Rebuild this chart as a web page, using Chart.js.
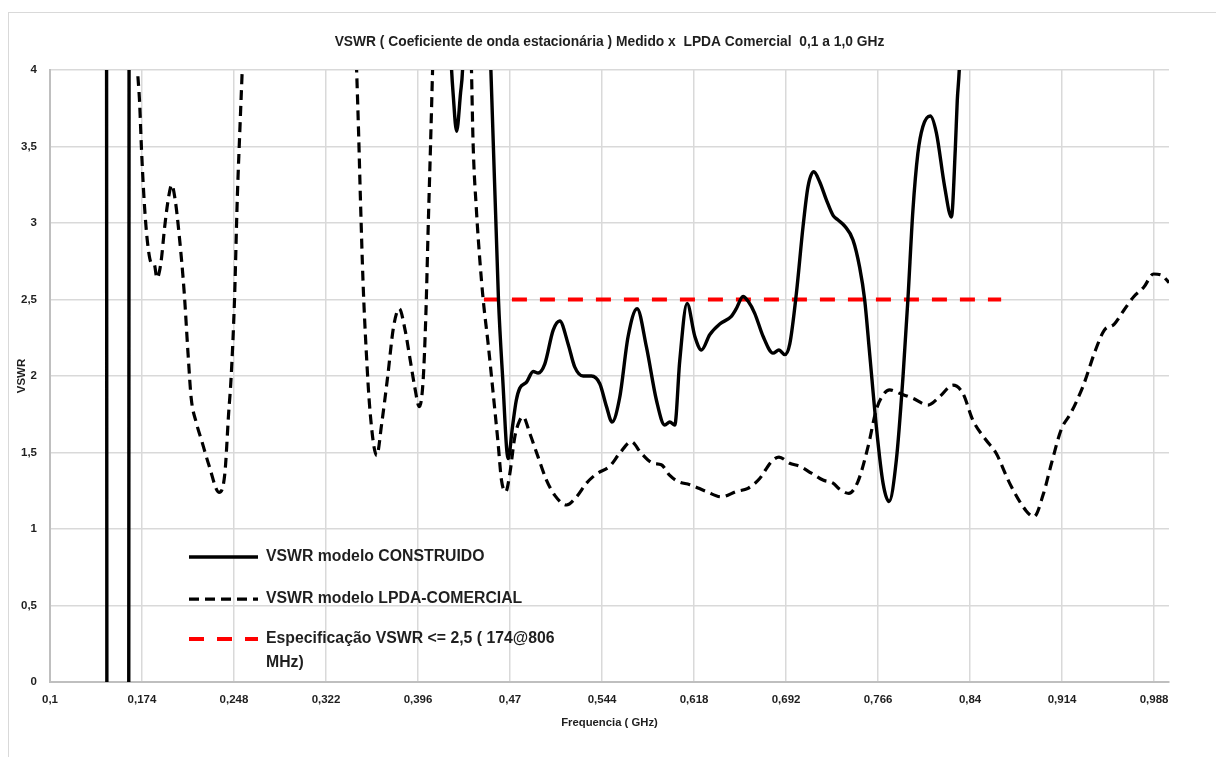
<!DOCTYPE html>
<html lang="pt">
<head>
<meta charset="utf-8">
<title>VSWR medido x LPDA comercial</title>
<script src="https://cdn.jsdelivr.net/npm/chart.js@4.4.1/dist/chart.umd.min.js"></script>
<style>
  html, body { margin: 0; padding: 0; background: #fff; overflow: hidden; }
  #frame { position: absolute; left: 8px; top: 12px; width: 1240px; height: 780px; border: 1px solid #d9d9d9; }
  #vswrChart { position: absolute; left: 0; top: 0; }
</style>
</head>
<body>
<div id="frame"></div>
<canvas id="vswrChart" width="1216" height="757"></canvas>
<script>
// Frequency axis labels (GHz)
const freqTicks = [0.1, 0.174, 0.248, 0.322, 0.396, 0.47, 0.544, 0.618, 0.692, 0.766, 0.84, 0.914, 0.988];

// Built antenna (measured) - values above 4 / below 0 fall outside the plot
const freqBuilt = [
  0.1000, 0.1454, 0.1458, 0.1633, 0.1637, 0.4200, 0.4230, 0.4242, 0.4270, 0.4302, 0.4318, 0.4350, 0.4490,
  0.4546, 0.4607, 0.4640, 0.4685, 0.4720, 0.4750, 0.4778, 0.4833, 0.4886, 0.4926, 0.4980, 0.5047, 0.5100,
  0.5167, 0.5220, 0.5288, 0.5355, 0.5422, 0.5476, 0.5520, 0.5582, 0.5650, 0.5722, 0.5797, 0.5878, 0.5944,
  0.5985, 0.6025, 0.6065, 0.6124, 0.6186, 0.6240, 0.6306, 0.6387, 0.6480, 0.6520, 0.6574, 0.6614, 0.6668,
  0.6735, 0.6815, 0.6863, 0.6910, 0.6950, 0.7003, 0.7057, 0.7097, 0.7143, 0.7190, 0.7245, 0.7298, 0.7338,
  0.7392, 0.7458, 0.7512, 0.7552, 0.7592, 0.7646, 0.7700, 0.7748, 0.7807, 0.7861, 0.7900, 0.7940, 0.7980,
  0.8020, 0.8080, 0.8129, 0.8195, 0.8250, 0.8281, 0.8297, 0.8313, 0.8340, 0.8400, 1.0000
];
const vswrBuilt = [
  6.0, 6.0, -1.0, -1.0, 6.0, 4.6, 4.0, 3.85, 3.6, 3.85, 4.0, 4.8, 5.0,
  4.0, 2.5, 2.0, 1.46, 1.67, 1.84, 1.92, 1.96, 2.03, 2.02, 2.08, 2.30, 2.36,
  2.21, 2.06, 2.00, 2.00, 1.95, 1.80, 1.70, 1.86, 2.26, 2.44, 2.19, 1.84, 1.68,
  1.70, 1.68, 2.10, 2.475, 2.26, 2.17, 2.27, 2.34, 2.39, 2.44, 2.52, 2.49, 2.41,
  2.26, 2.15, 2.17, 2.14, 2.21, 2.54, 2.98, 3.24, 3.335, 3.27, 3.15, 3.05, 3.02,
  2.98, 2.89, 2.71, 2.50, 2.15, 1.67, 1.30, 1.18, 1.45, 2.00, 2.50, 3.08, 3.455,
  3.63, 3.70, 3.59, 3.24, 3.04, 3.48, 3.80, 4.0, 4.6, 5.0, 5.0
];

// Commercial LPDA
const freqComercial = [
  0.1000, 0.1650, 0.1704, 0.1720, 0.1736, 0.1757, 0.1782, 0.1814, 0.1839, 0.1860, 0.1892, 0.1923, 0.1954,
  0.1979, 0.2007, 0.2038, 0.2079, 0.2110, 0.2135, 0.2175, 0.2219, 0.2281, 0.2359, 0.2406, 0.2437, 0.2456,
  0.2484, 0.2506, 0.2531, 0.2546, 0.2590, 0.3420, 0.3466, 0.3482, 0.3497, 0.3518, 0.3543, 0.3575, 0.3628,
  0.3668, 0.3715, 0.3763, 0.3809, 0.3856, 0.3902, 0.3933, 0.3970, 0.4001, 0.4023, 0.4042, 0.4061, 0.4077,
  0.4110, 0.4363, 0.4390, 0.4403, 0.4430, 0.4457, 0.4484, 0.4524, 0.4564, 0.4604, 0.4631, 0.4666, 0.4698,
  0.4738, 0.4778, 0.4805, 0.4859, 0.4926, 0.4993, 0.5060, 0.5154, 0.5234, 0.5315, 0.5395, 0.5502, 0.5582,
  0.5675, 0.5756, 0.5850, 0.5917, 0.5985, 0.6052, 0.6146, 0.6280, 0.6400, 0.6520, 0.6614, 0.6708, 0.6802,
  0.6863, 0.6949, 0.7030, 0.7124, 0.7217, 0.7298, 0.7352, 0.7425, 0.7498, 0.7580, 0.7646, 0.7700, 0.7753,
  0.7833, 0.7940, 0.8061, 0.8155, 0.8262, 0.8342, 0.8423, 0.8530, 0.8610, 0.8718, 0.8850, 0.8913, 0.8990,
  0.9055, 0.9133, 0.9212, 0.9307, 0.9338, 0.9400, 0.9480, 0.9560, 0.9637, 0.9718, 0.9797, 0.9876, 0.9940,
  1.0000
];
const vswrComercial = [
  5.0, 5.0, 4.0, 3.80, 3.48, 3.15, 2.89, 2.74, 2.73, 2.64, 2.74, 2.98, 3.17,
  3.25, 3.15, 2.93, 2.55, 2.15, 1.86, 1.70, 1.58, 1.41, 1.24, 1.36, 1.76, 1.98,
  2.50, 3.15, 3.69, 4.0, 5.0, 5.0, 4.0, 3.59, 3.15, 2.61, 2.17, 1.76, 1.48,
  1.69, 1.99, 2.32, 2.44, 2.30, 2.08, 1.93, 1.80, 1.97, 2.40, 2.98, 3.52, 4.0,
  5.0, 5.0, 4.0, 3.52, 3.08, 2.76, 2.50, 2.21, 1.89, 1.56, 1.32, 1.244, 1.36,
  1.60, 1.71, 1.734, 1.625, 1.47, 1.32, 1.22, 1.157, 1.21, 1.30, 1.36, 1.41, 1.495,
  1.57, 1.495, 1.43, 1.42, 1.35, 1.31, 1.29, 1.245, 1.21, 1.245, 1.266, 1.33, 1.44,
  1.47, 1.43, 1.41, 1.365, 1.32, 1.30, 1.26, 1.233, 1.31, 1.54, 1.78, 1.876, 1.91,
  1.887, 1.854, 1.81, 1.865, 1.94, 1.887, 1.71, 1.58, 1.495, 1.30, 1.12, 1.08, 1.23,
  1.43, 1.65, 1.76, 1.93, 2.0, 2.15, 2.30, 2.34, 2.43, 2.52, 2.58, 2.667, 2.66,
  2.61
];

// Specification limit
const freqSpec = [0.449, 0.865];
const vswrSpec = [2.5, 2.5];

const seriesNames = [
  'VSWR modelo CONSTRUIDO',
  'VSWR modelo LPDA-COMERCIAL',
  'Especificação VSWR <= 2,5 ( 174@806 MHz)'
];

const FONT = '"Liberation Sans", Arial, sans-serif';
const TEXT = '#1f1f1f';
const toPoints = (xs, ys) => xs.map((x, i) => ({ x, y: ys[i] }));
const comma = v => String(v).replace('.', ',');

// word-wrap a legend label to a max width
function wrap(ctx, text, maxW) {
  const words = text.split(' ');
  const lines = [];
  let line = '';
  words.forEach(w => {
    const test = line ? line + ' ' + w : w;
    if (ctx.measureText(test).width > maxW && line) {
      lines.push(line);
      line = w;
    } else {
      line = test;
    }
  });
  if (line) lines.push(line);
  return lines;
}

// Legend drawn inside the plot area, lower left
const legendBox = {
  id: 'legendBox',
  afterDatasetsDraw(chart) {
    const { ctx, chartArea } = chart;
    const x0 = chartArea.left + 139;
    const x1 = x0 + 69;
    const tx = x1 + 8;
    const rows = [487, 529, 569];
    ctx.save();
    ctx.font = 'bold 15.8px ' + FONT;
    ctx.textBaseline = 'middle';
    ctx.textAlign = 'left';
    chart.data.datasets.forEach((ds, i) => {
      const y = chartArea.top + rows[i];
      ctx.beginPath();
      ctx.setLineDash(ds.borderDash || []);
      ctx.lineWidth = ds.borderWidth;
      ctx.strokeStyle = ds.borderColor;
      ctx.moveTo(x0, y);
      ctx.lineTo(x1, y);
      ctx.stroke();
      ctx.setLineDash([]);
      ctx.fillStyle = TEXT;
      wrap(ctx, ds.label, 300).forEach((ln, k) => ctx.fillText(ln, tx, y + k * 23.7));
    });
    ctx.restore();
  }
};

const ctx = document.getElementById('vswrChart').getContext('2d');
new Chart(ctx, {
  type: 'line',
  data: {
    datasets: [
      {
        label: seriesNames[0],
        data: toPoints(freqBuilt, vswrBuilt),
        borderColor: '#000000',
        borderWidth: 3.4,
        cubicInterpolationMode: 'monotone',
        pointRadius: 0,
        borderJoinStyle: 'round'
      },
      {
        label: seriesNames[1],
        data: toPoints(freqComercial, vswrComercial),
        borderColor: '#000000',
        borderWidth: 3.2,
        borderDash: [10, 6],
        cubicInterpolationMode: 'monotone',
        pointRadius: 0,
        borderJoinStyle: 'round'
      },
      {
        label: seriesNames[2],
        data: toPoints(freqSpec, vswrSpec),
        borderColor: '#ff0000',
        borderWidth: 4,
        borderDash: [15, 13],
        pointRadius: 0
      }
    ]
  },
  options: {
    responsive: false,
    animation: false,
    events: [],
    layout: { padding: { left: 8, right: 47, top: 0, bottom: 25 } },
    plugins: {
      legend: { display: false },
      tooltip: { enabled: false },
      title: {
        display: true,
        fullSize: false,
        text: 'VSWR ( Coeficiente de onda estacionária ) Medido x  LPDA Comercial  0,1 a 1,0 GHz',
        color: TEXT,
        font: { family: FONT, size: 13.8, weight: 'bold' },
        padding: { top: 34, bottom: 19.5 }
      }
    },
    scales: {
      x: {
        type: 'linear',
        min: 0.1,
        max: 1.0,
        afterBuildTicks: scale => { scale.ticks = freqTicks.map(v => ({ value: v })); },
        afterFit: scale => { scale.height = 50; },
        grid: { color: '#d9d9d9', lineWidth: 1.5, drawTicks: false },
        border: { color: '#bfbfbf', width: 2 },
        ticks: {
          color: TEXT,
          font: { family: FONT, size: 11.5, weight: 'bold' },
          padding: 11,
          maxRotation: 0,
          autoSkip: false,
          callback: v => comma(v)
        },
        title: {
          display: true,
          text: 'Frequencia ( GHz)',
          color: TEXT,
          font: { family: FONT, size: 11.3, weight: 'bold' },
          padding: { top: 0, bottom: 2 }
        }
      },
      y: {
        min: 0,
        max: 4,
        afterFit: scale => { scale.width = 42; },
        grid: { color: '#d9d9d9', lineWidth: 1.5, drawTicks: false },
        border: { color: '#bfbfbf', width: 2 },
        ticks: {
          stepSize: 0.5,
          color: TEXT,
          font: { family: FONT, size: 11.5, weight: 'bold' },
          padding: 13,
          callback: v => comma(v)
        },
        title: {
          display: true,
          text: 'VSWR',
          color: TEXT,
          font: { family: FONT, size: 11.5, weight: 'bold' },
          padding: { top: 7, bottom: 0 }
        }
      }
    }
  },
  plugins: [legendBox]
});
</script>
</body>
</html>
